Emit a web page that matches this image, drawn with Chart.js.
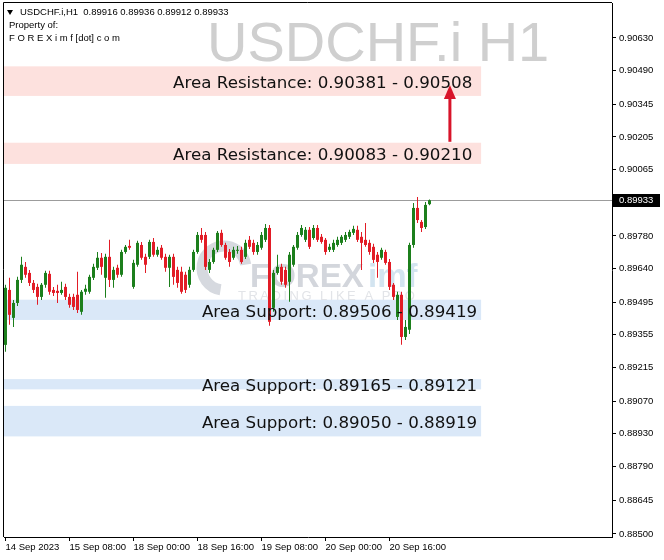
<!DOCTYPE html>
<html>
<head>
<meta charset="utf-8">
<script src="https://cdn.jsdelivr.net/npm/chart.js@4.4.0/dist/chart.umd.min.js"></script>
<style>
  html, body { margin: 0; padding: 0; background: #fff; }
  #wrap { width: 664px; height: 560px; }
</style>
</head>
<body>
<div id="wrap"><canvas id="priceChart" width="664" height="560"></canvas></div>
<script>
// USDCHF.i H1 candles, 14 Sep 16:00 .. 21 Sep 02:00
const opens = [
  0.89312, 0.89548, 0.89428, 0.89492, 0.89591, 0.89647, 0.89621, 0.89578, 0.89561, 0.89518,
  0.89570, 0.89617, 0.89548, 0.89544, 0.89535, 0.89561, 0.89518, 0.89518, 0.89527, 0.89454,
  0.89540, 0.89540, 0.89600, 0.89643, 0.89686, 0.89600, 0.89690, 0.89591, 0.89643, 0.89613,
  0.89711, 0.89737, 0.89561, 0.89656, 0.89741, 0.89690, 0.89690, 0.89754, 0.89699, 0.89729,
  0.89690, 0.89643, 0.89690, 0.89634, 0.89626, 0.89613, 0.89570, 0.89634, 0.89711, 0.89784,
  0.89784, 0.89634, 0.89668, 0.89720, 0.89793, 0.89741, 0.89711, 0.89686, 0.89716, 0.89720,
  0.89690, 0.89763, 0.89750, 0.89711, 0.89729, 0.89763, 0.89814, 0.89471, 0.89621, 0.89647,
  0.89634, 0.89583, 0.89656, 0.89729, 0.89784, 0.89763, 0.89806, 0.89771, 0.89814, 0.89776,
  0.89763, 0.89720, 0.89720, 0.89741, 0.89750, 0.89763, 0.89776, 0.89793, 0.89806, 0.89776,
  0.89763, 0.89750, 0.89733, 0.89699, 0.89686, 0.89711, 0.89668, 0.89570, 0.89432, 0.89527,
  0.89346, 0.89377, 0.89741, 0.89900, 0.89840, 0.89818, 0.89916
];
const highs = [
  0.89570, 0.89600, 0.89505, 0.89604, 0.89690, 0.89668, 0.89634, 0.89591, 0.89574, 0.89578,
  0.89630, 0.89630, 0.89561, 0.89570, 0.89583, 0.89574, 0.89531, 0.89531, 0.89626, 0.89548,
  0.89570, 0.89613, 0.89660, 0.89711, 0.89707, 0.89703, 0.89763, 0.89647, 0.89656, 0.89720,
  0.89741, 0.89763, 0.89677, 0.89759, 0.89754, 0.89703, 0.89763, 0.89771, 0.89733, 0.89741,
  0.89703, 0.89699, 0.89703, 0.89647, 0.89647, 0.89626, 0.89647, 0.89720, 0.89797, 0.89814,
  0.89797, 0.89681, 0.89729, 0.89801, 0.89806, 0.89750, 0.89724, 0.89733, 0.89737, 0.89733,
  0.89763, 0.89780, 0.89763, 0.89754, 0.89797, 0.89831, 0.89827, 0.89634, 0.89699, 0.89660,
  0.89647, 0.89711, 0.89741, 0.89797, 0.89827, 0.89818, 0.89818, 0.89827, 0.89827, 0.89788,
  0.89771, 0.89746, 0.89763, 0.89776, 0.89784, 0.89797, 0.89806, 0.89823, 0.89823, 0.89797,
  0.89835, 0.89763, 0.89746, 0.89711, 0.89729, 0.89720, 0.89681, 0.89578, 0.89540, 0.89540,
  0.89419, 0.89750, 0.89921, 0.89947, 0.89848, 0.89926, 0.89936
];
const lows = [
  0.89282, 0.89398, 0.89389, 0.89479, 0.89578, 0.89600, 0.89565, 0.89535, 0.89484, 0.89505,
  0.89557, 0.89527, 0.89522, 0.89492, 0.89527, 0.89505, 0.89471, 0.89462, 0.89449, 0.89441,
  0.89527, 0.89531, 0.89591, 0.89634, 0.89613, 0.89514, 0.89561, 0.89557, 0.89600, 0.89604,
  0.89703, 0.89720, 0.89553, 0.89647, 0.89677, 0.89621, 0.89681, 0.89690, 0.89690, 0.89677,
  0.89626, 0.89561, 0.89570, 0.89557, 0.89531, 0.89535, 0.89557, 0.89626, 0.89703, 0.89750,
  0.89634, 0.89621, 0.89660, 0.89711, 0.89733, 0.89677, 0.89647, 0.89677, 0.89703, 0.89660,
  0.89681, 0.89724, 0.89699, 0.89699, 0.89720, 0.89754, 0.89394, 0.89454, 0.89613, 0.89570,
  0.89557, 0.89497, 0.89647, 0.89720, 0.89776, 0.89754, 0.89724, 0.89763, 0.89754, 0.89746,
  0.89699, 0.89711, 0.89711, 0.89733, 0.89741, 0.89754, 0.89767, 0.89784, 0.89754, 0.89634,
  0.89733, 0.89699, 0.89664, 0.89600, 0.89677, 0.89656, 0.89548, 0.89505, 0.89419, 0.89312,
  0.89333, 0.89359, 0.89729, 0.89835, 0.89797, 0.89810, 0.89912
];
const closes = [
  0.89557, 0.89441, 0.89492, 0.89591, 0.89656, 0.89613, 0.89578, 0.89548, 0.89518, 0.89570,
  0.89621, 0.89540, 0.89535, 0.89535, 0.89548, 0.89518, 0.89484, 0.89475, 0.89462, 0.89540,
  0.89553, 0.89604, 0.89647, 0.89686, 0.89647, 0.89690, 0.89591, 0.89634, 0.89613, 0.89711,
  0.89733, 0.89729, 0.89664, 0.89750, 0.89686, 0.89656, 0.89754, 0.89699, 0.89720, 0.89686,
  0.89643, 0.89690, 0.89604, 0.89578, 0.89540, 0.89548, 0.89634, 0.89711, 0.89784, 0.89763,
  0.89647, 0.89668, 0.89720, 0.89793, 0.89741, 0.89686, 0.89668, 0.89720, 0.89720, 0.89668,
  0.89750, 0.89733, 0.89711, 0.89741, 0.89784, 0.89814, 0.89411, 0.89621, 0.89647, 0.89583,
  0.89570, 0.89699, 0.89733, 0.89784, 0.89814, 0.89806, 0.89733, 0.89814, 0.89763, 0.89754,
  0.89711, 0.89733, 0.89750, 0.89763, 0.89776, 0.89784, 0.89797, 0.89810, 0.89763, 0.89750,
  0.89741, 0.89711, 0.89677, 0.89668, 0.89720, 0.89664, 0.89561, 0.89518, 0.89527, 0.89346,
  0.89389, 0.89741, 0.89900, 0.89848, 0.89814, 0.89913, 0.89933
];

// time axis: bar index of each label
const tickBars = [0, 16, 32, 48, 64, 80, 96];
const tickLabels = ['14 Sep 2023', '15 Sep 08:00', '18 Sep 00:00', '18 Sep 16:00', '19 Sep 08:00', '20 Sep 00:00', '20 Sep 16:00'];

// price axis
const priceTicks = [0.90630, 0.90490, 0.90345, 0.90205, 0.90065, 0.89780, 0.89640, 0.89495,
  0.89355, 0.89215, 0.89070, 0.88930, 0.88790, 0.88645, 0.88500];
const priceMin = 0.88487;
const priceMax = 0.90780;
const lastPrice = 0.89933;

// support / resistance zones
const zoneTexts = ['Area Resistance: 0.90381 - 0.90508', 'Area Resistance: 0.90083 - 0.90210',
  'Area Support: 0.89506 - 0.89419', 'Area Support: 0.89165 - 0.89121', 'Area Support: 0.89050 - 0.88919'];
const zoneHigh = [0.90508, 0.90180, 0.89506, 0.89165, 0.89050];
const zoneLow = [0.90381, 0.90089, 0.89419, 0.89121, 0.88919];
const zoneKind = ['r', 'r', 's', 's', 's'];
const zoneTextBar = [41.9, 41.9, 49.1, 49.1, 49.1];
const zoneEndBar = 118.9;

// arrow from zone 2 up to zone 1
const arrowBar = 111.1;
const arrowFrom = 0.90184;
const arrowTo = 0.90428;

const bull = '#1c7f1c';
const bear = '#e21c26';
const idx = closes.map((c, i) => i);
const colors = idx.map(i => closes[i] >= opens[i] ? bull : bear);
const axisFont = { family: 'Liberation Sans', size: 9.5 };

const overlay = {
  id: 'overlay',
  beforeDatasetsDraw(chart) {
    const { ctx, chartArea: a, scales: { x, y } } = chart;
    ctx.save();
    // zones
    zoneHigh.forEach((h, i) => {
      const top = y.getPixelForValue(h), bot = y.getPixelForValue(zoneLow[i]);
      ctx.fillStyle = zoneKind[i] === 'r' ? '#fde1de' : '#dae8f8';
      ctx.fillRect(a.left, top, x.getPixelForValue(zoneEndBar) - a.left, bot - top);
    });
    // symbol watermark
    ctx.fillStyle = '#cfcfcf';
    ctx.font = '56px "Liberation Sans"';
    ctx.textBaseline = 'alphabetic';
    ctx.fillText('USDCHF.i H1', 207, 61);
    // logo watermark
    ctx.strokeStyle = '#d6d9df';
    ctx.lineWidth = 11;
    ctx.beginPath();
    ctx.arc(224, 268, 22, 0.55 * Math.PI, 1.95 * Math.PI);
    ctx.stroke();
    ctx.font = 'bold 33px "Liberation Sans"';
    ctx.fillStyle = '#d3d6dc';
    ctx.fillText('FOREX', 250, 287);
    ctx.fillStyle = '#d3e4f0';
    ctx.fillText('imf', 368, 287);
    ctx.font = '13px "Liberation Sans"';
    ctx.fillStyle = '#e2e4e8';
    ctx.letterSpacing = '2.5px';
    ctx.fillText('TRADING LIKE A PRO', 238, 300);
    ctx.letterSpacing = '0px';
    // current price line
    const py = Math.round(y.getPixelForValue(lastPrice)) + 0.5;
    ctx.strokeStyle = '#9c9c9c';
    ctx.lineWidth = 1;
    ctx.beginPath();
    ctx.moveTo(a.left, py);
    ctx.lineTo(a.right, py);
    ctx.stroke();
    ctx.restore();
  },
  afterDatasetsDraw(chart) {
    const { ctx, chartArea: a, scales: { x, y } } = chart;
    ctx.save();
    // zone captions
    ctx.font = '16.7px "DejaVu Sans"';
    ctx.fillStyle = '#111';
    ctx.textBaseline = 'middle';
    zoneTexts.forEach((t, i) => {
      const mid = (y.getPixelForValue(zoneHigh[i]) + y.getPixelForValue(zoneLow[i])) / 2 + 2.5;
      ctx.fillText(t, x.getPixelForValue(zoneTextBar[i]), mid);
    });
    // red arrow
    const ax = x.getPixelForValue(arrowBar);
    const y0 = y.getPixelForValue(arrowFrom), y1 = y.getPixelForValue(arrowTo);
    ctx.strokeStyle = '#d8142a';
    ctx.fillStyle = '#d8142a';
    ctx.lineWidth = 3;
    ctx.beginPath();
    ctx.moveTo(ax, y0);
    ctx.lineTo(ax, y1 + 10);
    ctx.stroke();
    ctx.beginPath();
    ctx.moveTo(ax, y1);
    ctx.lineTo(ax - 6, y1 + 14);
    ctx.lineTo(ax + 6, y1 + 14);
    ctx.closePath();
    ctx.fill();
    // frame left / top
    ctx.strokeStyle = '#000';
    ctx.lineWidth = 1;
    ctx.beginPath();
    ctx.moveTo(a.left - 0.5, a.bottom);
    ctx.lineTo(a.left - 0.5, a.top - 0.5);
    ctx.lineTo(a.right, a.top - 0.5);
    ctx.stroke();
    // last price label
    const py = Math.round(y.getPixelForValue(lastPrice));
    ctx.fillStyle = '#000';
    ctx.fillRect(a.right + 1, py - 6, 47, 13);
    ctx.fillStyle = '#fff';
    ctx.font = '9.5px "Liberation Sans"';
    ctx.textBaseline = 'middle';
    ctx.fillText(lastPrice.toFixed(5), a.right + 7, py + 0.5);
    // header
    ctx.fillStyle = '#000';
    ctx.beginPath();
    ctx.moveTo(7, 10);
    ctx.lineTo(13, 10);
    ctx.lineTo(10, 15);
    ctx.closePath();
    ctx.fill();
    const last = closes.length - 1;
    ctx.fillText('USDCHF.i,H1  ' + [opens[last], highs[last], lows[last], closes[last]].map(v => v.toFixed(5)).join(' '), 20, 12.5);
    ctx.fillText('Property of:', 9, 25.5);
    ctx.fillText('F O R E X i m f [dot] c o m', 9, 38.5);
    ctx.restore();
  }
};

new Chart(document.getElementById('priceChart'), {
  type: 'bar',
  data: {
    datasets: [
      {
        label: 'body',
        data: idx.map(i => ({ x: i, y: [Math.min(opens[i], closes[i]), Math.max(opens[i], closes[i])] })),
        backgroundColor: colors,
        barThickness: 3,
        minBarLength: 1,
        grouped: false,
        inflateAmount: 0,
        order: 1
      },
      {
        label: 'wick',
        data: idx.map(i => ({ x: i, y: [lows[i], highs[i]] })),
        backgroundColor: colors,
        barThickness: 1,
        grouped: false,
        inflateAmount: 0,
        order: 2
      }
    ]
  },
  options: {
    responsive: false,
    animation: false,
    layout: { padding: { left: 4, top: 3, right: 0, bottom: 0 } },
    plugins: { legend: { display: false }, tooltip: { enabled: false } },
    scales: {
      x: {
        type: 'linear',
        min: -0.375,
        max: 151.625,
        offset: false,
        afterBuildTicks: s => { s.ticks = tickBars.map(v => ({ value: v })); },
        afterFit: s => { s.height = 23; s.paddingLeft = 0; s.paddingRight = 0; },
        grid: { drawOnChartArea: false, drawTicks: true, tickLength: 4, color: '#000', offset: false },
        border: { color: '#000' },
        ticks: {
          autoSkip: false, maxRotation: 0, align: 'start', padding: 1,
          font: axisFont, color: '#000',
          callback: v => tickLabels[tickBars.indexOf(v)]
        }
      },
      y: {
        type: 'linear',
        position: 'right',
        min: priceMin,
        max: priceMax,
        afterBuildTicks: s => { s.ticks = priceTicks.map(v => ({ value: v })); },
        afterFit: s => { s.width = 52; s.paddingTop = 0; s.paddingBottom = 0; },
        grid: { drawOnChartArea: false, drawTicks: true, tickLength: 4, color: '#000' },
        border: { color: '#000' },
        ticks: { padding: 3, font: axisFont, color: '#000', callback: v => v.toFixed(5) }
      }
    }
  },
  plugins: [overlay]
});
</script>
</body>
</html>
